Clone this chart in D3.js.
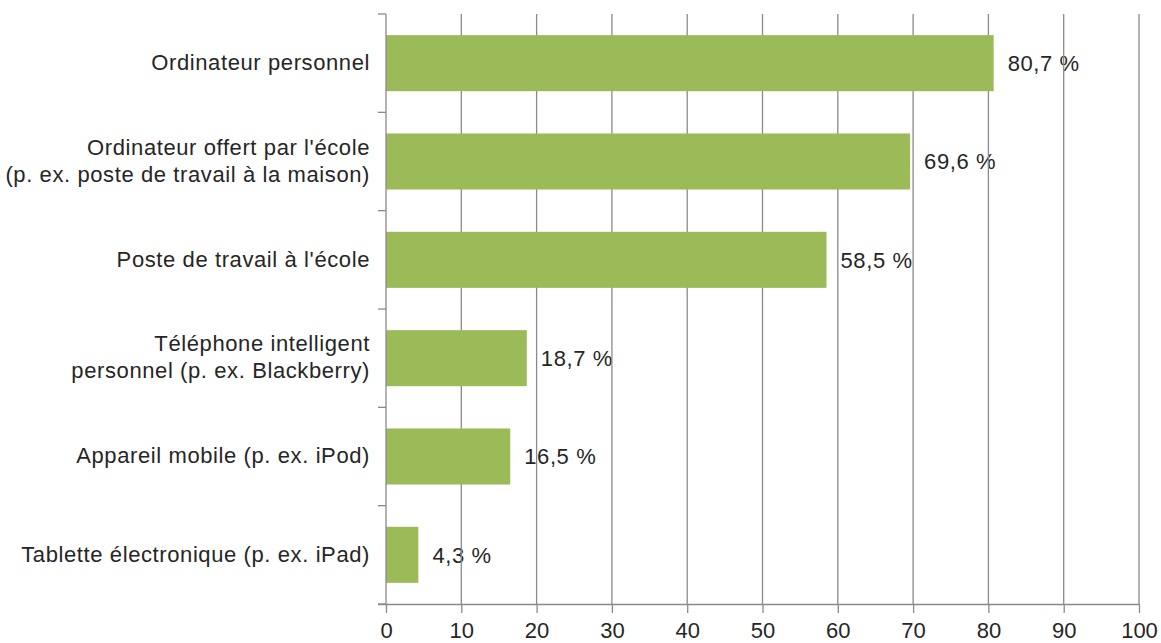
<!DOCTYPE html>
<html>
<head>
<meta charset="utf-8">
<script src="https://cdn.jsdelivr.net/npm/d3@7"></script>
<style>
  html, body { margin: 0; padding: 0; background: #fff; }
  svg { display: block; }
  text { font-family: "Liberation Sans", Arial, sans-serif; fill: #262626; }
</style>
</head>
<body>
<svg id="chart" width="1161" height="643"></svg>
<script>
const categories = [
  ["Ordinateur personnel"],
  ["Ordinateur offert par l'école", "(p. ex. poste de travail à la maison)"],
  ["Poste de travail à l'école"],
  ["Téléphone intelligent", "personnel (p. ex. Blackberry)"],
  ["Appareil mobile (p. ex. iPod)"],
  ["Tablette électronique (p. ex. iPad)"]
];
const values = [80.7, 69.6, 58.5, 18.7, 16.5, 4.3];
const valueLabels = ["80,7 %", "69,6 %", "58,5 %", "18,7 %", "16,5 %", "4,3 %"];
const xTicks = [0, 10, 20, 30, 40, 50, 60, 70, 80, 90, 100];

(function () {
const svg = d3.select("#chart");
const mLeft = 386, mRight = 1139, mTop = 14, mBottom = 604;
const fontSize = 22;
const axisColor = "#8a8a8a";
const ls = "0.6px";

const x = d3.scaleLinear().domain([0, 100]).range([mLeft, mRight]);
const idx = categories.map((d, i) => i);
const y = d3.scaleBand().domain(idx).range([mTop, mBottom]).paddingInner(0.43).paddingOuter(0.215);

// value labels (drawn under gridlines)
svg.append("g").selectAll("text").data(values).join("text")
  .attr("x", d => x(d) + 14)
  .attr("y", (d, i) => y(i) + y.bandwidth() / 2)
  .attr("dy", "0.35em")
  .attr("font-size", fontSize)
  .attr("letter-spacing", ls)
  .text((d, i) => valueLabels[i]);

// gridlines
svg.append("g").selectAll("line").data(xTicks.filter(t => t > 0)).join("line")
  .attr("x1", d => x(d)).attr("x2", d => x(d))
  .attr("y1", mTop).attr("y2", mBottom)
  .attr("stroke", axisColor).attr("stroke-width", 1.3);

// bars
svg.append("g").selectAll("rect").data(values).join("rect")
  .attr("x", x(0))
  .attr("y", (d, i) => y(i))
  .attr("width", d => x(d) - x(0))
  .attr("height", y.bandwidth())
  .attr("fill", "#9bbb59");

// y axis line with category boundary ticks
const boundaries = d3.range(categories.length + 1).map(i => mTop + i * (mBottom - mTop) / categories.length);
svg.append("line")
  .attr("x1", mLeft).attr("x2", mLeft).attr("y1", mTop).attr("y2", mBottom)
  .attr("stroke", axisColor).attr("stroke-width", 1.3);
svg.append("g").selectAll("line").data(boundaries).join("line")
  .attr("x1", mLeft - 8).attr("x2", mLeft)
  .attr("y1", d => d).attr("y2", d => d)
  .attr("stroke", axisColor).attr("stroke-width", 1.3);

// x axis
const xAxis = d3.axisBottom(x).tickValues(xTicks).tickSize(9).tickPadding(9).tickFormat(d3.format("d"));
const gx = svg.append("g").attr("transform", `translate(0,${mBottom})`).call(xAxis);
gx.select(".domain").attr("d", `M${mLeft - 8},0.5H${mRight}`).attr("stroke", axisColor).attr("stroke-width", 1.3);
gx.selectAll(".tick line").attr("stroke", axisColor).attr("stroke-width", 1.3);
gx.selectAll(".tick text").attr("font-size", fontSize).attr("font-family", "'Liberation Sans', Arial, sans-serif").attr("fill", "#262626");

// category labels
const lineH = 27;
const gl = svg.append("g");
categories.forEach((lines, i) => {
  const cy = y(i) + y.bandwidth() / 2;
  const t = gl.append("text")
    .attr("x", 370)
    .attr("text-anchor", "end")
    .attr("font-size", fontSize)
    .attr("letter-spacing", ls);
  lines.forEach((ln, j) => {
    t.append("tspan")
      .attr("x", 370)
      .attr("y", cy + (j - (lines.length - 1) / 2) * lineH - 1)
      .attr("dy", "0.35em")
      .text(ln);
  });
});
})();
</script>
</body>
</html>
